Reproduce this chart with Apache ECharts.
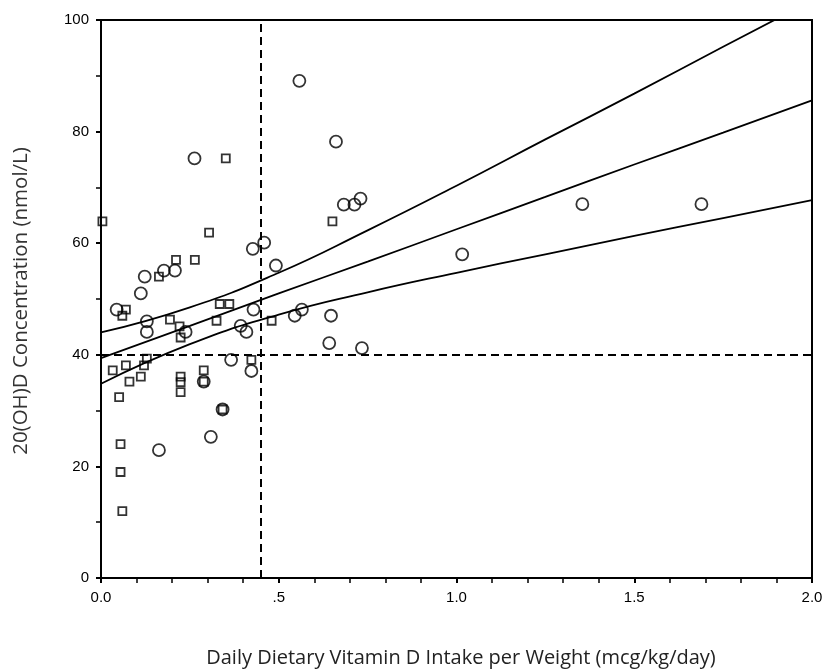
<!DOCTYPE html>
<html>
<head>
<meta charset="utf-8">
<script src="https://cdn.jsdelivr.net/npm/echarts@6/dist/echarts.min.js"></script>
<style>
  html, body { margin: 0; padding: 0; background: #fff; }
  #chart { width: 827px; height: 670px; }
</style>
</head>
<body>
<div id="chart"></div>
<script>
// open circles
const circles = [
    [0.263, 75.2], [0.427, 59.0], [0.459, 60.1], [0.492, 56.0],
    [0.177, 55.1], [0.208, 55.1], [0.123, 54.0], [0.112, 51.0], [0.044, 48.1],
    [0.129, 46.0], [0.129, 44.1], [0.238, 44.1],
    [0.429, 48.1], [0.393, 45.2], [0.409, 44.1],
    [0.366, 39.1], [0.423, 37.1], [0.289, 35.2],
    [0.342, 30.2], [0.309, 25.3], [0.163, 22.9],
    [0.558, 89.1], [0.661, 78.2], [0.683, 66.9], [0.713, 66.9], [0.730, 68.0],
    [0.545, 47.0], [0.565, 48.1], [0.647, 47.0], [0.642, 42.1], [0.734, 41.2],
    [1.016, 58.0], [1.354, 67.0], [1.689, 67.0]
];

// open squares
const squares = [
    [0.351, 75.2], [0.004, 63.9], [0.304, 61.9], [0.651, 63.9],
    [0.211, 57.0], [0.264, 57.0], [0.163, 54.0],
    [0.070, 48.1], [0.060, 47.0], [0.194, 46.3], [0.221, 45.1], [0.224, 43.1],
    [0.334, 49.1], [0.361, 49.1], [0.325, 46.1], [0.480, 46.1],
    [0.423, 39.1], [0.289, 37.2], [0.289, 35.2], [0.224, 36.1], [0.224, 35.1], [0.224, 33.3],
    [0.129, 39.3], [0.121, 38.1], [0.070, 38.1], [0.033, 37.2], [0.112, 36.1], [0.080, 35.2],
    [0.051, 32.4], [0.342, 30.2], [0.055, 24.0], [0.055, 19.0], [0.060, 12.0]
];

// fit line and its confidence band
const bandX = [0, 0.25, 0.5, 0.75, 1.0, 1.25, 1.5, 1.75, 2.0];
const fitY = [39.4, 45.2, 51.0, 56.7, 62.5, 68.3, 74.1, 79.8, 85.6];
const upperY = [44.0, 48.5, 54.7, 62.3, 70.3, 78.6, 86.8, 95.2, 103.5];
const lowerY = [34.8, 41.9, 47.2, 51.2, 54.7, 58.0, 61.3, 64.5, 67.7];

const cutX = 0.45;
const cutY = 40;

const xTicks = {0: '0.0', 0.5: '.5', 1: '1.0', 1.5: '1.5', 2: '2.0'};

const pairs = ys => bandX.map((x, i) => [x, ys[i]]);

const lineStyle = { color: '#000', width: 1.8 };

const myChart = echarts.init(document.getElementById('chart'), null, { renderer: 'canvas' });

const option = {
    animation: false,
    backgroundColor: '#fff',
    textStyle: { fontFamily: 'Liberation Sans' },
    grid: {
        left: 101, right: 15, top: 20, bottom: 92,
        show: true, borderColor: '#000', borderWidth: 2
    },
    xAxis: {
        type: 'value', min: 0, max: 2, interval: 0.5,
        axisLine: { lineStyle: { color: '#000', width: 2 } },
        axisTick: { show: true, length: 5, lineStyle: { color: '#000', width: 2 } },
        minorTick: { show: true, splitNumber: 5, length: 5, lineStyle: { color: '#000', width: 1.5 } },
        splitLine: { show: false },
        axisLabel: {
            margin: 12, color: '#000', fontSize: 15, fontFamily: 'Liberation Sans',
            formatter: v => xTicks[v] !== undefined ? xTicks[v] : ''
        }
    },
    yAxis: {
        type: 'value', min: 0, max: 100, interval: 20,
        axisLine: { lineStyle: { color: '#000', width: 2 } },
        axisTick: { show: true, length: 5, lineStyle: { color: '#000', width: 2 } },
        minorTick: { show: true, splitNumber: 2, length: 5, lineStyle: { color: '#000', width: 1.5 } },
        splitLine: { show: false },
        axisLabel: { margin: 12, color: '#000', fontSize: 15, fontFamily: 'Liberation Sans' }
    },
    graphic: [
        {
            type: 'text', x: 21, y: 301, rotation: Math.PI / 2,
            style: {
                text: '20(OH)D Concentration (nmol/L)',
                fontSize: 20.5, fontFamily: 'Open Sans',
                fill: '#333', align: 'center', verticalAlign: 'middle'
            }
        },
        {
            type: 'text', x: 461, y: 658,
            style: {
                text: 'Daily Dietary Vitamin D Intake per Weight (mcg/kg/day)',
                fontSize: 20, fontFamily: 'Open Sans',
                fill: '#222', align: 'center', verticalAlign: 'middle'
            }
        }
    ],
    series: [
        {
            type: 'line', data: pairs(fitY), showSymbol: false, smooth: true,
            lineStyle: lineStyle, silent: true, z: 3,
            markLine: {
                silent: true, symbol: 'none', label: { show: false },
                lineStyle: { color: '#000', width: 2, type: [8, 5] },
                data: [{ xAxis: cutX }, { yAxis: cutY }]
            }
        },
        { type: 'line', data: pairs(upperY), showSymbol: false, smooth: true, lineStyle: lineStyle, silent: true, z: 3 },
        { type: 'line', data: pairs(lowerY), showSymbol: false, smooth: true, lineStyle: lineStyle, silent: true, z: 3 },
        {
            type: 'scatter', data: circles, symbol: 'circle', symbolSize: 12,
            itemStyle: { color: 'rgba(0,0,0,0)', borderColor: '#000', borderWidth: 1.8 }, z: 4
        },
        {
            type: 'scatter', data: squares, symbol: 'rect', symbolSize: 8,
            itemStyle: { color: 'rgba(0,0,0,0)', borderColor: '#000', borderWidth: 1.8 }, z: 4
        }
    ]
};

myChart.setOption(option);
</script>
</body>
</html>
